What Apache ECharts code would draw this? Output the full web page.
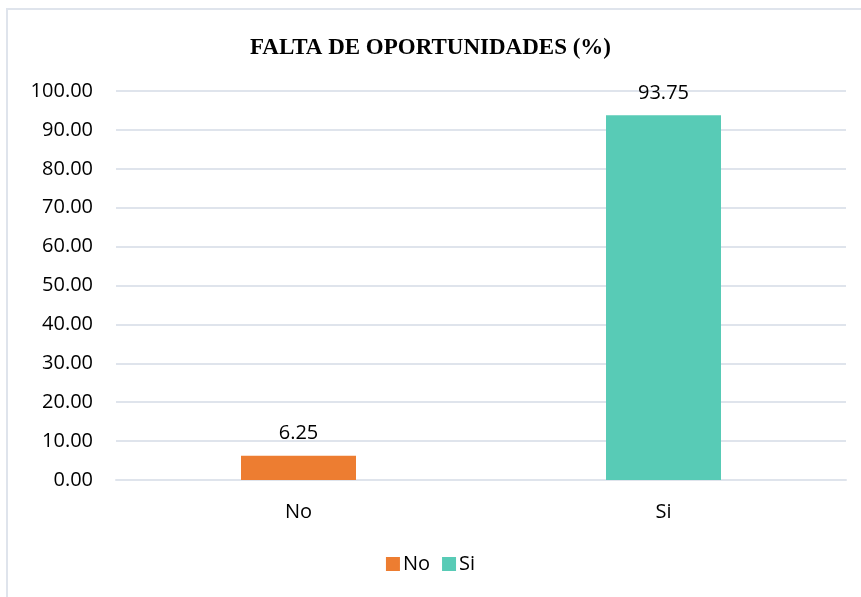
<!DOCTYPE html>
<html>
<head>
<meta charset="utf-8">
<script src="https://cdn.jsdelivr.net/npm/echarts@6/dist/echarts.min.js"></script>
<style>
  html, body { margin: 0; padding: 0; background: #fff; }
  #chart { width: 861px; height: 597px; }
</style>
</head>
<body>
<div id="chart"></div>
<script>
// datos del gráfico
const categories = ['No', 'Si']
const values = [6.25, 93.75]
const colors = ['#ED7D31', '#58CBB6']

const labelFont = '"Open Sans", "Noto Sans", sans-serif'

let myChart = echarts.init(document.getElementById('chart'))

let option = {
    backgroundColor: '#fff',
    animation: false,
    title: {
        text: 'FALTA DE OPORTUNIDADES (%)',
        left: 'center',
        top: 32,
        textStyle: {
            fontFamily: '"Liberation Serif", "DejaVu Serif", serif',
            fontWeight: 'bold',
            fontSize: 23,
            color: '#000'
        }
    },
    graphic: [{
        type: 'rect',
        shape: { x: 7, y: 9, width: 870, height: 600 },
        style: { fill: 'none', stroke: '#DFE4EC', lineWidth: 2 },
        silent: true
    }],
    legend: {
        bottom: 18,
        left: 'center',
        itemWidth: 14,
        itemHeight: 14,
        itemGap: 12,
        icon: 'rect',
        data: categories,
        textStyle: { fontFamily: labelFont, fontSize: 20, color: '#000', padding: [0, 0, 0, -2] }
    },
    grid: {
        left: 116,
        right: 15,
        top: 91,
        bottom: 117
    },
    xAxis: {
        type: 'category',
        data: categories,
        axisLine: { lineStyle: { color: '#DFE4EC', width: 2 } },
        axisTick: { show: false },
        axisLabel: { fontFamily: labelFont, fontSize: 20, color: '#000', margin: 22 }
    },
    yAxis: {
        type: 'value',
        min: 0,
        max: 100,
        interval: 10,
        axisLine: { show: false },
        axisTick: { show: false },
        splitLine: { lineStyle: { color: '#DFE4EC', width: 2 } },
        axisLabel: {
            fontFamily: labelFont,
            fontSize: 20,
            color: '#000',
            margin: 23,
            formatter: function (v) { return v.toFixed(2) }
        }
    },
    series: categories.map(function (name, i) {
        let data = categories.map(function (c, j) { return j === i ? values[i] : '-' })
        return {
            name: name,
            type: 'bar',
            stack: 'total',
            data: data,
            barWidth: 115,
            itemStyle: { color: colors[i] },
            label: {
                show: true,
                position: 'top',
                distance: 12,
                fontFamily: labelFont,
                fontSize: 20,
                color: '#000',
                formatter: function (p) { return p.value.toFixed(2) }
            }
        }
    })
}

myChart.setOption(option)
</script>
</body>
</html>
